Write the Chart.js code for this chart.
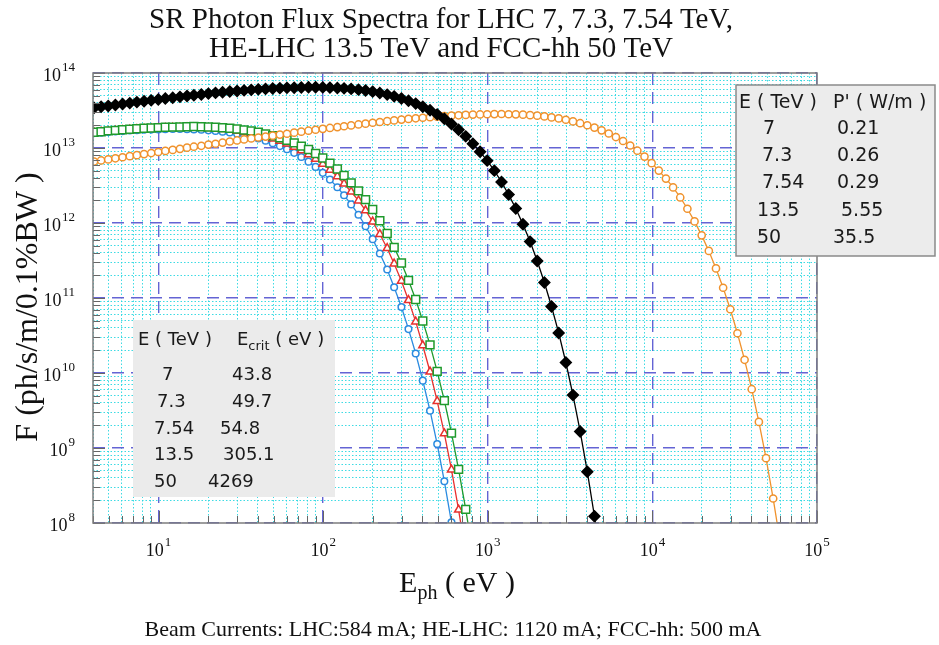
<!DOCTYPE html>
<html>
<head>
<meta charset="utf-8">
<title>SR Photon Flux Spectra</title>
<script src="https://cdn.jsdelivr.net/npm/chart.js@4.4.1/dist/chart.umd.min.js"></script>
<style>
  html, body { margin: 0; padding: 0; background: #fff; }
  canvas { display: block; }
</style>
</head>
<body>
<canvas id="fluxChart" width="939" height="645"></canvas>
<script>
// photon energies (eV), same sampling for every curve
const energy = [
  4.06, 4.48, 4.95, 5.47, 6.05, 6.69, 7.39, 8.17, 9.03, 9.97,
  11.0, 12.2, 13.5, 14.9, 16.4, 18.2, 20.1, 22.2, 24.5, 27.1,
  30.0, 33.1, 36.6, 40.4, 44.7, 49.4, 54.6, 60.3, 66.7, 73.7,
  81.5, 90.0, 99.5, 110, 122, 134, 148, 164, 181, 200,
  221, 245, 270, 299, 330, 365, 403, 446, 493, 545,
  602, 665, 735, 812, 898, 992, 1097, 1212, 1339, 1480,
  1636, 1808, 1998, 2208, 2440, 2697, 2981, 3294, 3641, 4024,
  4447, 4915, 5432, 6003, 6634, 7332, 8103, 8955, 9897, 10938,
  12088, 13360, 14765, 16318, 18034, 19930, 22026, 24343, 26903, 29733,
  32860, 36316, 40135, 44356, 49021, 54176, 59874
];

// flux F (ph/s/m/0.1%BW)
const fluxLHC7 = [
  1.58e13, 1.60e13, 1.63e13, 1.66e13, 1.68e13, 1.71e13, 1.73e13, 1.75e13, 1.76e13, 1.77e13,
  1.78e13, 1.79e13, 1.79e13, 1.78e13, 1.77e13, 1.75e13, 1.72e13, 1.69e13, 1.65e13, 1.61e13,
  1.55e13, 1.49e13, 1.41e13, 1.34e13, 1.25e13, 1.16e13, 1.06e13, 9.63e12, 8.61e12, 7.59e12,
  6.58e12, 5.60e12, 4.66e12, 3.79e12, 3.00e12, 2.34e12, 1.77e12, 1.29e12, 9.05e11, 6.09e11,
  3.92e11, 2.40e11, 1.39e11, 7.58e10, 3.85e10, 1.82e10, 7.91e9, 3.14e9, 1.13e9, 3.60e8,
  1.02e8, 2.51e7
];
const fluxLHC73 = [
  1.60e13, 1.64e13, 1.66e13, 1.69e13, 1.72e13, 1.75e13, 1.77e13, 1.79e13, 1.81e13, 1.83e13,
  1.84e13, 1.85e13, 1.86e13, 1.87e13, 1.86e13, 1.85e13, 1.83e13, 1.80e13, 1.78e13, 1.74e13,
  1.69e13, 1.63e13, 1.57e13, 1.49e13, 1.41e13, 1.33e13, 1.24e13, 1.14e13, 1.03e13, 9.26e12,
  8.19e12, 7.14e12, 6.11e12, 5.11e12, 4.18e12, 3.33e12, 2.61e12, 1.99e12, 1.47e12, 1.04e12,
  7.08e11, 4.61e11, 2.87e11, 1.69e11, 9.34e10, 4.84e10, 2.33e10, 1.04e10, 4.22e9, 1.56e9,
  5.14e8, 1.50e8, 3.85e7
];
const fluxLHC754 = [
  1.62e13, 1.65e13, 1.69e13, 1.72e13, 1.75e13, 1.78e13, 1.81e13, 1.83e13, 1.85e13, 1.87e13,
  1.89e13, 1.90e13, 1.91e13, 1.92e13, 1.93e13, 1.92e13, 1.91e13, 1.89e13, 1.86e13, 1.83e13,
  1.79e13, 1.74e13, 1.69e13, 1.62e13, 1.54e13, 1.46e13, 1.37e13, 1.27e13, 1.17e13, 1.06e13,
  9.55e12, 8.44e12, 7.35e12, 6.29e12, 5.26e12, 4.30e12, 3.43e12, 2.68e12, 2.05e12, 1.51e12,
  1.07e12, 7.26e11, 4.73e11, 2.93e11, 1.72e11, 9.54e10, 4.94e10, 2.37e10, 1.05e10, 4.28e9,
  1.58e9, 5.19e8, 1.52e8, 3.87e7
];
const fluxHELHC = [
  3.43e13, 3.54e13, 3.64e13, 3.75e13, 3.86e13, 3.97e13, 4.09e13, 4.20e13, 4.32e13, 4.44e13,
  4.56e13, 4.68e13, 4.81e13, 4.93e13, 5.05e13, 5.18e13, 5.31e13, 5.43e13, 5.55e13, 5.66e13,
  5.75e13, 5.86e13, 5.96e13, 6.05e13, 6.14e13, 6.21e13, 6.28e13, 6.34e13, 6.37e13, 6.41e13,
  6.44e13, 6.46e13, 6.43e13, 6.38e13, 6.32e13, 6.24e13, 6.14e13, 6.00e13, 5.83e13, 5.64e13,
  5.41e13, 5.15e13, 4.88e13, 4.58e13, 4.26e13, 3.91e13, 3.55e13, 3.18e13, 2.81e13, 2.45e13,
  2.09e13, 1.75e13, 1.43e13, 1.14e13, 8.89e12, 6.78e12, 4.99e12, 3.52e12, 2.39e12, 1.56e12,
  9.64e11, 5.65e11, 3.12e11, 1.61e11, 7.71e10, 3.42e10, 1.38e10, 5.07e9, 1.66e9, 4.83e8,
  1.23e8, 2.69e7
];
const fluxFCC = [
  6.60e12, 6.82e12, 7.05e12, 7.29e12, 7.53e12, 7.78e12, 8.03e12, 8.30e12, 8.57e12, 8.85e12,
  9.14e12, 9.43e12, 9.74e12, 1.01e13, 1.04e13, 1.07e13, 1.11e13, 1.14e13, 1.18e13, 1.22e13,
  1.26e13, 1.30e13, 1.34e13, 1.38e13, 1.42e13, 1.46e13, 1.51e13, 1.55e13, 1.60e13, 1.65e13,
  1.70e13, 1.75e13, 1.80e13, 1.85e13, 1.90e13, 1.95e13, 2.00e13, 2.06e13, 2.11e13, 2.17e13,
  2.22e13, 2.28e13, 2.33e13, 2.39e13, 2.44e13, 2.49e13, 2.53e13, 2.58e13, 2.62e13, 2.66e13,
  2.70e13, 2.73e13, 2.76e13, 2.79e13, 2.80e13, 2.82e13, 2.83e13, 2.84e13, 2.82e13, 2.81e13,
  2.78e13, 2.74e13, 2.70e13, 2.64e13, 2.56e13, 2.48e13, 2.38e13, 2.26e13, 2.14e13, 2.01e13,
  1.87e13, 1.72e13, 1.56e13, 1.40e13, 1.24e13, 1.08e13, 9.20e12, 7.69e12, 6.28e12, 5.00e12,
  3.91e12, 2.98e12, 2.19e12, 1.55e12, 1.05e12, 6.84e11, 4.24e11, 2.48e11, 1.37e11, 7.08e10,
  3.39e10, 1.50e10, 6.08e9, 2.23e9, 7.31e8, 2.12e8, 5.40e7
];

// table contents
const beamEnergy = ['7', '7.3', '7.54', '13.5', '50'];
const critEnergy = ['43.8', '49.7', '54.8', '305.1', '4269'];
const linePower = ['0.21', '0.26', '0.29', '5.55', '35.5'];

// decade tick labels
const xDecades = [1e1, 1e2, 1e3, 1e4, 1e5];
const yDecades = [1e8, 1e9, 1e10, 1e11, 1e12, 1e13, 1e14];

const SERIF = '"Liberation Serif", "Times New Roman", serif';
const SANS = '"DejaVu Sans", Verdana, sans-serif';

function isDecade(v) {
    const e = Math.log10(v);
    return Math.abs(e - Math.round(e)) < 1e-6;
}

// 1..9 x 10^n ticks across the range
function logTicks(scale) {
    const ticks = [];
    const lo = Math.floor(Math.log10(scale.min));
    const hi = Math.ceil(Math.log10(scale.max));
    for (let e = lo; e <= hi; e++) {
        for (let m = 1; m <= 9; m++) {
            const v = m * Math.pow(10, e);
            if (v >= scale.min * 0.999 && v <= scale.max * 1.001) ticks.push({ value: v, major: m === 1 });
        }
    }
    scale.ticks = ticks;
}

const gridOpts = {
    drawTicks: false,
    color: ctx => (ctx.tick && isDecade(ctx.tick.value)) ? '#6464d4' : 'rgba(40,215,225,0.9)',
    lineWidth: ctx => (ctx.tick && isDecade(ctx.tick.value)) ? 1.4 : 1
};
const borderOpts = {
    display: false,
    dash: ctx => ctx.tick ? (isDecade(ctx.tick.value) ? [12, 7] : [1.5, 2]) : []
};

function series(flux, color, style, radius, fill) {
    return {
        data: flux.map((f, i) => ({ x: energy[i], y: f })),
        borderColor: color,
        backgroundColor: fill,
        pointBorderColor: color,
        pointBackgroundColor: fill,
        pointStyle: style,
        pointRadius: radius,
        pointBorderWidth: 1.5,
        borderWidth: 1.3,
        tension: 0
    };
}

// 10 with a raised exponent
function drawPower(ctx, x, y, exp, align) {
    ctx.font = '18px ' + SERIF;
    const wBase = ctx.measureText('10').width;
    ctx.font = '13px ' + SERIF;
    const wExp = ctx.measureText(exp).width;
    const total = wBase + wExp + 1;
    const left = align === 'right' ? x - total : x - total / 2;
    ctx.textAlign = 'left';
    ctx.textBaseline = 'alphabetic';
    ctx.font = '18px ' + SERIF;
    ctx.fillText('10', left, y);
    ctx.font = '13px ' + SERIF;
    ctx.fillText(exp, left + wBase + 1, y - 10);
}

const decorations = {
    id: 'decorations',
    afterDraw(chart) {
        const ctx = chart.ctx;
        const { left, right, top, bottom } = chart.chartArea;
        const xs = chart.scales.x, ys = chart.scales.y;
        ctx.save();

        // inner tick marks
        ctx.strokeStyle = '#666';
        ctx.lineWidth = 1;
        ctx.beginPath();
        ys.ticks.forEach(t => {
            const py = Math.round(ys.getPixelForValue(t.value)) + 0.5;
            ctx.moveTo(left, py);
            ctx.lineTo(left + (isDecade(t.value) ? 12 : 7), py);
        });
        xs.ticks.forEach(t => {
            const px = Math.round(xs.getPixelForValue(t.value)) + 0.5;
            ctx.moveTo(px, bottom);
            ctx.lineTo(px, bottom - (isDecade(t.value) ? 12 : 7));
        });
        ctx.stroke();

        // plot frame
        ctx.strokeStyle = '#7d7d7d';
        ctx.lineWidth = 1.5;
        ctx.strokeRect(left, top, right - left, bottom - top);

        // tick labels
        ctx.fillStyle = '#111';
        yDecades.forEach(v => {
            drawPower(ctx, 75, ys.getPixelForValue(v) + 8, String(Math.round(Math.log10(v))), 'right');
        });
        xDecades.forEach(v => {
            drawPower(ctx, xs.getPixelForValue(v), 556, String(Math.round(Math.log10(v))), 'center');
        });

        // title
        ctx.textAlign = 'center';
        ctx.textBaseline = 'alphabetic';
        ctx.font = '29px ' + SERIF;
        ctx.fillText('SR Photon Flux Spectra for LHC 7, 7.3, 7.54 TeV,', 441, 28);
        ctx.fillText('HE-LHC 13.5 TeV and FCC-hh 50 TeV', 441, 57);

        // caption
        ctx.font = '22px ' + SERIF;
        ctx.fillText('Beam Currents: LHC:584 mA; HE-LHC: 1120 mA; FCC-hh: 500 mA', 453, 636);

        // y axis title
        ctx.save();
        ctx.translate(37, 307);
        ctx.rotate(-Math.PI / 2);
        ctx.font = '32px ' + SERIF;
        ctx.fillText('F (ph/s/m/0.1%BW )', 0, 0);
        ctx.restore();

        // x axis title with subscript
        ctx.textAlign = 'left';
        ctx.font = '30px ' + SERIF;
        const wE = ctx.measureText('E').width;
        const wRest = ctx.measureText(' ( eV )').width;
        ctx.font = '20px ' + SERIF;
        const wSub = ctx.measureText('ph').width;
        let tx = 457 - (wE + wSub + wRest) / 2;
        ctx.font = '30px ' + SERIF;
        ctx.fillText('E', tx, 592);
        ctx.font = '20px ' + SERIF;
        ctx.fillText('ph', tx + wE, 599);
        ctx.font = '30px ' + SERIF;
        ctx.fillText(' ( eV )', tx + wE + wSub, 592);

        // lower-left table: critical energies
        ctx.fillStyle = '#ebebeb';
        ctx.fillRect(133, 320, 202, 177);
        ctx.fillStyle = '#1a1a1a';
        ctx.font = '18px ' + SANS;
        ctx.fillText('E ( TeV )', 138, 345);
        ctx.fillText('E', 237, 345);
        const wE2 = ctx.measureText('E').width;
        ctx.font = '13px ' + SANS;
        ctx.fillText('crit', 237 + wE2, 350);
        const wCrit = ctx.measureText('crit').width;
        ctx.font = '18px ' + SANS;
        ctx.fillText(' ( eV )', 237 + wE2 + wCrit, 345);
        const llCol1 = [162, 157, 154, 154, 154];
        const llCol2 = [232, 232, 220, 223, 208];
        beamEnergy.forEach((b, i) => {
            const by = 380 + i * 26.8;
            ctx.fillText(b, llCol1[i], by);
            ctx.fillText(critEnergy[i], llCol2[i], by);
        });

        // top-right table: linear power
        ctx.fillStyle = '#ececec';
        ctx.fillRect(736, 85, 199, 171);
        ctx.strokeStyle = '#8a8a8a';
        ctx.lineWidth = 1.5;
        ctx.strokeRect(736, 85, 199, 171);
        ctx.fillStyle = '#1a1a1a';
        ctx.font = '19px ' + SANS;
        ctx.fillText('E ( TeV )', 739, 108);
        ctx.fillText("P' ( W/m )", 833, 108);
        const trCol1 = [763, 762, 762, 757, 757];
        const trCol2 = [837, 837, 837, 841, 833];
        beamEnergy.forEach((b, i) => {
            const by = 134 + i * 27.2;
            ctx.fillText(b, trCol1[i], by);
            ctx.fillText(linePower[i], trCol2[i], by);
        });

        ctx.restore();
    }
};

const ctx = document.getElementById('fluxChart').getContext('2d');

const dsBlue = series(fluxLHC7, '#2b8be0', 'circle', 3.3, '#ffffff');
const dsRed = series(fluxLHC73, '#e8302e', 'triangle', 4.6, '#ffffff');
const dsGreen = series(fluxLHC754, '#1f9a2c', 'rect', 5.6, '#ffffff');
const dsBlack = series(fluxHELHC, '#000000', 'rectRot', 5.4, '#000000');
const dsOrange = series(fluxFCC, '#f0922c', 'circle', 3.6, '#ffffff');
dsBlack.order = 0;
dsOrange.order = 1;
dsGreen.order = 2;
dsRed.order = 3;
dsBlue.order = 4;

new Chart(ctx, {
    type: 'line',
    data: { datasets: [dsBlue, dsRed, dsGreen, dsBlack, dsOrange] },
    options: {
        responsive: false,
        animation: false,
        events: [],
        layout: { padding: { left: 93, top: 73, right: 122, bottom: 122 } },
        plugins: {
            legend: { display: false },
            tooltip: { enabled: false },
            title: { display: false }
        },
        scales: {
            x: {
                type: 'logarithmic',
                min: 4,
                max: 1e5,
                afterBuildTicks: logTicks,
                ticks: { display: false, autoSkip: false },
                grid: gridOpts,
                border: borderOpts
            },
            y: {
                type: 'logarithmic',
                min: 1e8,
                max: 1e14,
                afterBuildTicks: logTicks,
                ticks: { display: false, autoSkip: false },
                grid: gridOpts,
                border: borderOpts
            }
        }
    },
    plugins: [decorations]
});
</script>
</body>
</html>
